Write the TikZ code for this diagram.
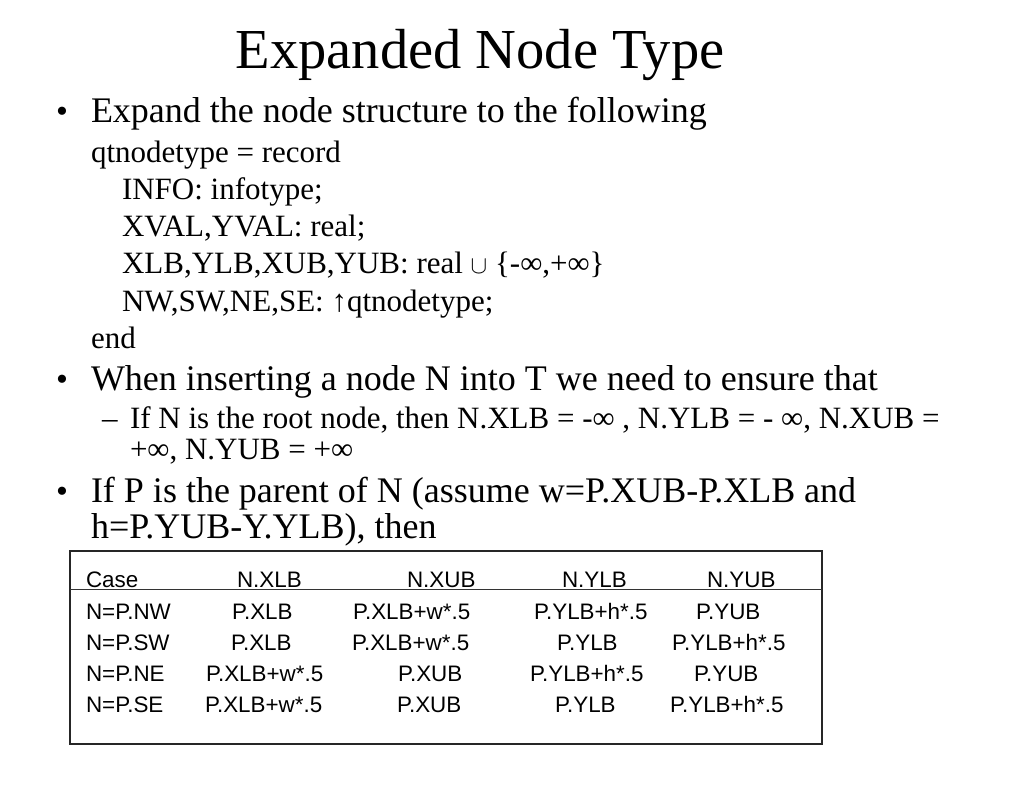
\documentclass[tikz,border=0pt]{standalone}
\usepackage{fontspec}
\setmainfont{Liberation Serif}
\newfontfamily\tabfont{Liberation Sans}
\begin{document}
\begin{tikzpicture}[x=1pt,y=-1pt,
  txt/.style={anchor=base west,inner sep=0pt,outer sep=0pt},
  big/.style={txt,font=\fontsize{36}{40}\selectfont},
  mid/.style={txt,font=\fontsize{31}{36}\selectfont},
  cell/.style={txt,font=\tabfont\fontsize{22.4}{26}\selectfont},
  bul/.style={txt,font=\fontsize{34}{40}\selectfont}]
\useasboundingbox[fill=white] (0,0) rectangle (1024,791);
% title
\node[anchor=base,inner sep=0pt,font=\fontsize{56.5}{60}\selectfont] (title) at (480,69) {Expanded Node Type};
% bullet 1
\node[bul] (b1) at (56,123) {•};
\node[big] (l1) at (91,123) {Expand the node structure to the following};
\node[mid] (c1) at (91,163) {qtnodetype = record};
\node[mid] (c2) at (122,200) {INFO: infotype;};
\node[mid] (c3) at (122,237) {XVAL,YVAL: real;};
\node[mid] (c4) at (122,274) {XLB,YLB,XUB,YUB: real $\cup$ \{-∞,+∞\}};
\node[mid] (c5) at (122,311) {NW,SW,NE,SE: ↑qtnodetype;};
\node[mid] (c6) at (91,348) {end};
% bullet 2
\node[bul] (b2) at (56,390) {•};
\node[big] (l2) at (91,390) {When inserting a node N into T we need to ensure that};
\node[mid] (d1) at (102,428) {–};
\node[mid] (s1) at (130,428) {If N is the root node, then N.XLB = -∞ , N.YLB = - ∞, N.XUB =};
\node[mid] (s2) at (130,459) {+∞, N.YUB = +∞};
% bullet 3
\node[bul] (b3) at (56,502) {•};
\node[big] (l3) at (91,502) {If P is the parent of N (assume w=P.XUB-P.XLB and};
\node[big] (l4) at (91,538) {h=P.YUB-Y.YLB), then};
% table box
\draw[line width=1.6pt,black!85] (70,551) rectangle (822,744);
\draw[line width=0.8pt,black!80] (70,589) -- (822,589);
% header
\node[cell] (h0) at (86,587) {Case};
\node[cell] (h1) at (237,587) {N.XLB};
\node[cell] (h2) at (407,587) {N.XUB};
\node[cell] (h3) at (562,587) {N.YLB};
\node[cell] (h4) at (707,587) {N.YUB};
% row NW
\node[cell] (r10) at (86,619) {N=P.NW};
\node[cell] (r11) at (232,619) {P.XLB};
\node[cell] (r12) at (353,619) {P.XLB+w*.5};
\node[cell] (r13) at (534,619) {P.YLB+h*.5};
\node[cell] (r14) at (696,619) {P.YUB};
% row SW
\node[cell] (r20) at (86,650) {N=P.SW};
\node[cell] (r21) at (231,650) {P.XLB};
\node[cell] (r22) at (352,650) {P.XLB+w*.5};
\node[cell] (r23) at (557,650) {P.YLB};
\node[cell] (r24) at (672,650) {P.YLB+h*.5};
% row NE
\node[cell] (r30) at (86,681) {N=P.NE};
\node[cell] (r31) at (206,681) {P.XLB+w*.5};
\node[cell] (r32) at (398,681) {P.XUB};
\node[cell] (r33) at (530,681) {P.YLB+h*.5};
\node[cell] (r34) at (694,681) {P.YUB};
% row SE
\node[cell] (r40) at (86,712) {N=P.SE};
\node[cell] (r41) at (205,712) {P.XLB+w*.5};
\node[cell] (r42) at (397,712) {P.XUB};
\node[cell] (r43) at (555,712) {P.YLB};
\node[cell] (r44) at (670,712) {P.YLB+h*.5};
\end{tikzpicture}
\end{document}
